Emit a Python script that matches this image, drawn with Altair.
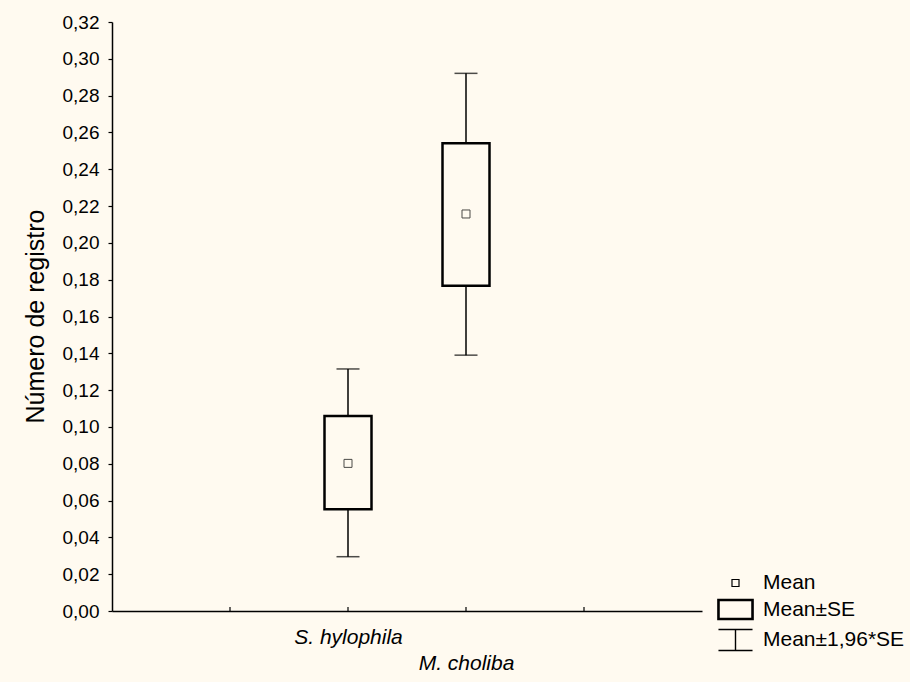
import altair as alt
import pandas as pd

# ---- data ----
species = ["S. hylophila", "M. choliba"]
slots = [" ", "S. hylophila", "M. choliba", "  "]
mean = [0.0802, 0.2157]
se_lo = [0.0553, 0.1767]
se_hi = [0.1059, 0.2541]
ci_lo = [0.0295, 0.1390]
ci_hi = [0.1315, 0.2921]
y_ticks = [0.00, 0.02, 0.04, 0.06, 0.08, 0.10, 0.12, 0.14, 0.16,
           0.18, 0.20, 0.22, 0.24, 0.26, 0.28, 0.30, 0.32]
legend_items = ["Mean", "Mean±SE", "Mean±1,96*SE"]
legend_widths = [1.2, 2.6, 1.4]

CREAM = "#FFFAF0"
INK = "#000000"
FONT = "Liberation Sans"

df = pd.DataFrame({
    "species": species, "mean": mean,
    "se_lo": se_lo, "se_hi": se_hi, "ci_lo": ci_lo, "ci_hi": ci_hi,
})
slot_df = pd.DataFrame({"species": slots})
legend_df = pd.DataFrame({"item": legend_items})

W, H = 590, 589

x_enc = alt.X(
    "species:N",
    scale=alt.Scale(type="point", domain=slots, padding=1),
    axis=alt.Axis(
        title=None, ticks=False, labelFontSize=21, labelFontStyle="italic",
        labelPadding=15, labelBaseline="top", labelLineHeight=26,
        labelOverlap=False, labelFlush=False, labelBound=False, labelAngle=0,
        labelExpr="datum.label == 'M. choliba' ? ['', datum.label] : datum.label",
        domainWidth=1.5,
    ),
)
y_scale = alt.Scale(domain=[0, 0.32], nice=False, zero=True)
y_axis = alt.Axis(
    title="Número de registro", values=y_ticks, tickCount=17, tickSize=4,
    tickWidth=1.2, labelFontSize=19, labelPadding=9, domainWidth=1.5,
    labelOverlap=False, labelFlush=False, labelBound=False,
    labelExpr="replace(format(datum.value, '.2f'), '.', ',')",
    titleFontSize=25, titleFontWeight="normal", titleX=-77, titleY=294,
    titleBaseline="middle", titleAngle=270,
)


def yq(field):
    return alt.Y(field, scale=y_scale, axis=y_axis)


base = alt.Chart(df)

whisker = base.mark_rule(color=INK, strokeWidth=1.5).encode(
    x=x_enc, y=yq("ci_lo:Q"), y2="ci_hi:Q"
)
cap_hi = base.mark_tick(color=INK, size=23, thickness=1.5).encode(
    x=x_enc, y=yq("ci_hi:Q")
)
cap_lo = base.mark_tick(color=INK, size=23, thickness=1.5).encode(
    x=x_enc, y=yq("ci_lo:Q")
)
box = base.mark_bar(width=47, fill=CREAM, stroke=INK, strokeWidth=2.5).encode(
    x=x_enc, y=yq("se_lo:Q"), y2="se_hi:Q"
)
pt = base.mark_point(shape="square", size=64, filled=False, color=INK,
                     strokeWidth=1).encode(
    x=x_enc, y=yq("mean:Q")
)
xticks = alt.Chart(slot_df).mark_rule(color=INK, strokeWidth=1.2).encode(
    x=x_enc, y=alt.value(H), y2=alt.value(H - 4)
)

paths = [
    "M-0.27,-0.27H0.27V0.27H-0.27Z",
    "M-1.31,-0.73H1.31V0.73H-1.31Z",
    "M-1.31,-0.81H1.31M0,-0.81V0.81M-1.31,0.81H1.31",
]
leg = alt.Legend(
    title=None, orient="none", legendX=609, legendY=547,
    symbolSize=676, symbolStrokeColor=INK, symbolFillColor="transparent",
    labelFontSize=21, labelFont=FONT,
    labelColor=INK, labelOffset=13, rowPadding=1, padding=0,
    symbolOpacity=1, labelLimit=300,
)
legend_layer = alt.Chart(legend_df).transform_filter("false").mark_point(
    filled=False, color=INK
).encode(
    shape=alt.Shape(
        "item:N", scale=alt.Scale(type="ordinal", domain=legend_items, range=paths),
        legend=leg,
    ),
    strokeWidth=alt.StrokeWidth(
        "item:N",
        scale=alt.Scale(type="ordinal", domain=legend_items, range=legend_widths),
        legend=leg,
    ),
)

chart = alt.layer(whisker, box, cap_hi, cap_lo, pt, xticks, legend_layer).properties(
    width=W, height=H,
    background=CREAM,
    padding={"left": 112, "top": 22, "right": 208, "bottom": 71},
    autosize=alt.AutoSizeParams(type="none"),
).configure_axis(
    grid=False, domainColor=INK, tickColor=INK, labelColor=INK, titleColor=INK,
    labelFont=FONT, titleFont=FONT,
).configure_view(stroke=None)

chart.save("out.html", embed_options={"renderer": "svg", "actions": False})
